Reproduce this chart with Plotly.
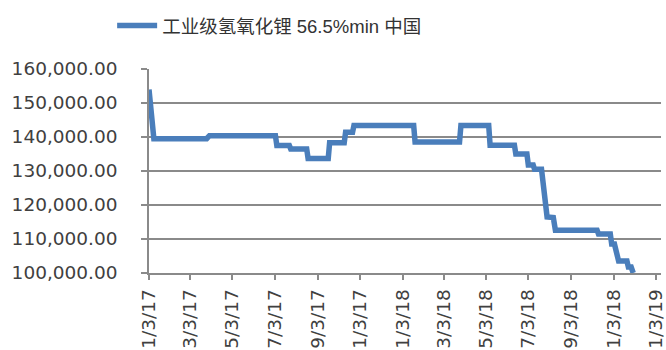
import plotly.graph_objects as go

# 工业级氢氧化锂 56.5%min 中国 — price level changes (date, yuan/ton)
dates = [
    "2017-01-03", "2017-01-10", "2017-03-27", "2017-03-31",
    "2017-07-04", "2017-07-06", "2017-07-24", "2017-07-26",
    "2017-08-18", "2017-08-20", "2017-09-18", "2017-09-20",
    "2017-10-11", "2017-10-13", "2017-10-23", "2017-10-25",
    "2018-01-19", "2018-01-21", "2018-03-26", "2018-03-28",
    "2018-05-07", "2018-05-09", "2018-06-13", "2018-06-15",
    "2018-07-01", "2018-07-03", "2018-07-10", "2018-07-12",
    "2018-07-22", "2018-07-26", "2018-07-30", "2018-08-08",
    "2018-08-11", "2018-10-10", "2018-10-12", "2018-10-29",
    "2018-10-31", "2018-11-04", "2018-11-10", "2018-11-22",
    "2018-11-24", "2018-11-28", "2018-12-01",
]
prices = [
    154000, 139500, 139500, 140400,
    140400, 137500, 137500, 136500,
    136500, 133700, 133700, 138300,
    138300, 141400, 141400, 143400,
    143400, 138500, 138500, 143400,
    143400, 137600, 137600, 135000,
    135000, 131800, 131800, 130500,
    130500, 123500, 116500, 116300,
    112600, 112600, 111500, 111500,
    108500, 108500, 103500, 103500,
    101800, 101800, 100000,
]

series_name = "工业级氢氧化锂 56.5%min 中国"

# x-axis ticks every two months
tick_dates = [
    "2017-01-03", "2017-03-03", "2017-05-03", "2017-07-03", "2017-09-03",
    "2017-11-03", "2018-01-03", "2018-03-03", "2018-05-03", "2018-07-03",
    "2018-09-03", "2018-11-03", "2019-01-03",
]
tick_labels = [
    "1/3/17", "3/3/17", "5/3/17", "7/3/17", "9/3/17", "11/3/17", "1/3/18",
    "3/3/18", "5/3/18", "7/3/18", "9/3/18", "11/3/18", "1/3/19",
]
y_ticks = [100000, 110000, 120000, 130000, 140000, 150000, 160000]

LINE_BLUE = "#4a7ebb"
AXIS_GRAY = "#8a8a8a"
TEXT_DARK = "#404040"

fig = go.Figure()
fig.add_trace(go.Scatter(
    x=dates, y=prices, mode="lines", name=series_name,
    line=dict(color=LINE_BLUE, width=5.5),
    showlegend=True,
))

fig.update_layout(
    width=666, height=350,
    margin=dict(l=149, r=5, t=69, b=77, pad=0),
    paper_bgcolor="white", plot_bgcolor="white",
    showlegend=True,
    legend=dict(
        orientation="h",
        x=-0.072, xanchor="left",
        y=1.211, yanchor="middle",
        itemwidth=40,
        font=dict(family="Liberation Sans, Noto Sans CJK SC", size=18.5, color="#333333"),
        bgcolor="rgba(0,0,0,0)",
    ),
    xaxis=dict(
        type="date",
        range=["2017-01-03", "2019-01-10"],
        tickmode="array", tickvals=tick_dates, ticktext=tick_labels,
        tickangle=-90,
        ticks="outside", ticklen=5, tickwidth=1.5, tickcolor=AXIS_GRAY,
        showline=True, linecolor=AXIS_GRAY, linewidth=1.5,
        showgrid=False, zeroline=False,
        tickfont=dict(family="DejaVu Sans", size=18.5, color=TEXT_DARK),
        ticklabelstandoff=2,
        ticklabeloverflow="allow",
        automargin=False,
    ),
    yaxis=dict(
        range=[100000, 160000],
        tickmode="array", tickvals=y_ticks,
        tickformat=",.2f",
        ticks="outside", ticklen=6, tickwidth=1.5, tickcolor=AXIS_GRAY,
        showline=True, linecolor=AXIS_GRAY, linewidth=1.5,
        showgrid=True, gridcolor=AXIS_GRAY, gridwidth=1.5,
        zeroline=False,
        tickfont=dict(family="DejaVu Sans", size=18.5, color=TEXT_DARK),
        ticklabelstandoff=20,
        automargin=False,
    ),
)

fig.write_html("out.html")
